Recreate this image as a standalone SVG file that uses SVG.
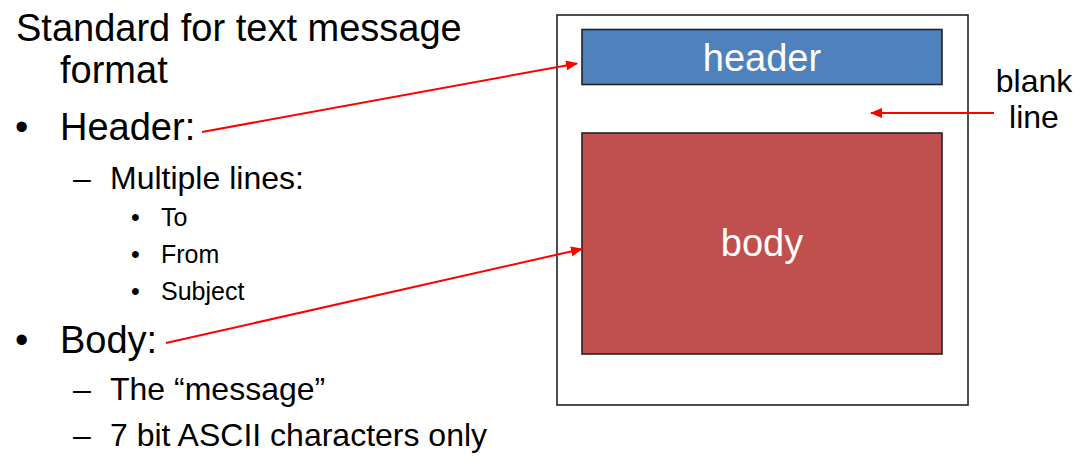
<svg xmlns="http://www.w3.org/2000/svg" width="1082" height="464" viewBox="0 0 1082 464">
  <style>
    text { font-family: "Liberation Sans", Arial, sans-serif; fill: #000; }
    .l1 { font-size: 38px; }
    .l2 { font-size: 32px; }
    .l3 { font-size: 25px; }
    .lbl { font-size: 38px; fill: #fff; text-anchor: middle; }
    .side { font-size: 32px; text-anchor: middle; }
    .box { stroke: #222; stroke-width: 1.6; }
    .conn { stroke: #ff0000; stroke-width: 2; fill: none; marker-end: url(#ah); }
  </style>
  <defs>
    <marker id="ah" markerUnits="userSpaceOnUse" markerWidth="12" markerHeight="10" refX="11" refY="5" orient="auto">
      <path d="M0,0 L12,5 L0,10 Z" fill="#ff0000"/>
    </marker>
  </defs>
  <rect width="1082" height="464" fill="#fff"/>

  <g id="bullets">
    <text class="l1" x="16" y="41">Standard for text message</text>
    <text class="l1" x="60" y="83">format</text>
    <text class="l1" x="15" y="140">•</text>
    <text class="l1" x="60" y="140">Header:</text>
    <text class="l2" x="73" y="189">–</text>
    <text class="l2" x="110" y="189">Multiple lines:</text>
    <text class="l3" x="131" y="226">•</text>
    <text class="l3" x="161" y="226">To</text>
    <text class="l3" x="131" y="263">•</text>
    <text class="l3" x="161" y="263">From</text>
    <text class="l3" x="131" y="300">•</text>
    <text class="l3" x="161" y="300">Subject</text>
    <text class="l1" x="15" y="353">•</text>
    <text class="l1" x="60" y="353">Body:</text>
    <text class="l2" x="73" y="400">–</text>
    <text class="l2" x="110" y="400">The “message”</text>
    <text class="l2" x="73" y="446">–</text>
    <text class="l2" x="110" y="446">7 bit ASCII characters only</text>
  </g>

  <g id="message">
    <rect class="box" x="557" y="15" width="411" height="390" fill="#fff"/>
  </g>
  <g id="header">
    <rect class="box" x="582" y="29.5" width="360" height="55" fill="#4f81bd"/>
    <text class="lbl" x="762" y="71">header</text>
  </g>
  <g id="body">
    <rect class="box" x="582" y="133" width="360" height="221" fill="#c0504d"/>
    <text class="lbl" x="762" y="256">body</text>
  </g>
  <g id="blank-line">
    <text class="side" x="1034" y="92">blank</text>
    <text class="side" x="1034" y="128">line</text>
  </g>

  <g id="connectors">
    <line class="conn" x1="202" y1="132" x2="577" y2="63.5"/>
    <line class="conn" x1="166" y1="343" x2="582" y2="249"/>
    <line class="conn" x1="994" y1="113" x2="871" y2="113"/>
  </g>
</svg>
